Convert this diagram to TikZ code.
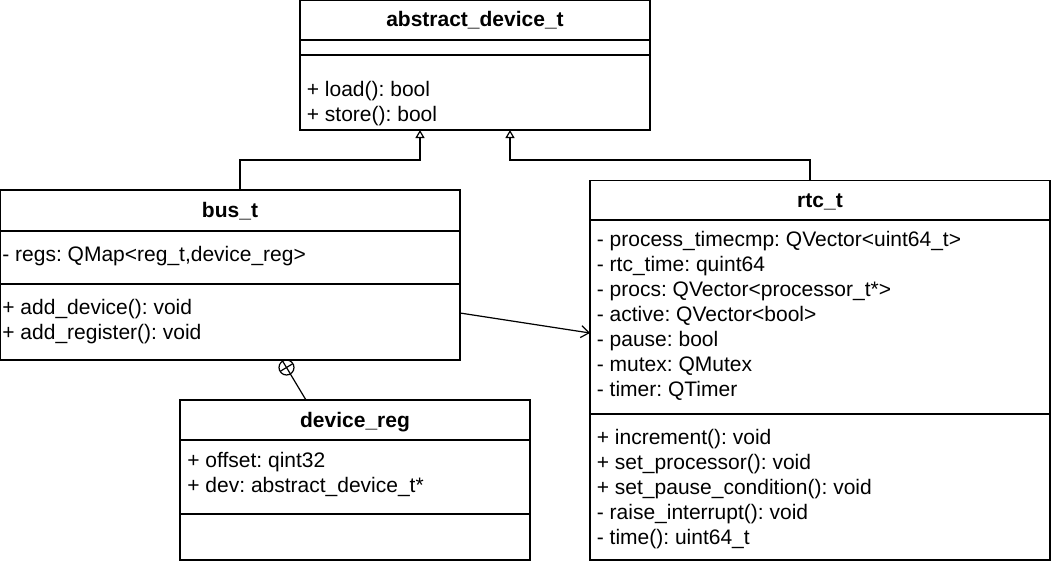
\documentclass[tikz,border=0pt]{standalone}
\usepackage{fontspec}
\setmainfont{Liberation Sans}
\usetikzlibrary{arrows.meta}
\frenchspacing
\begin{document}
\begin{tikzpicture}[x=0.5pt,y=-0.5pt,
  every node/.style={font=\fontsize{10.5}{12.6}\selectfont},
  box/.style={draw, line width=0.6pt, rectangle, anchor=north west, inner sep=0pt, outer sep=0pt},
  sep/.style={line width=0.6pt},
  attr/.style={anchor=base west, inner sep=0pt},
  ttl/.style={anchor=base, inner sep=0pt, font=\fontsize{10.5}{12.6}\selectfont\bfseries},
  inh/.style={line width=0.6pt, -{Triangle[open, length=4pt, width=4.5pt]}},
  assoc/.style={line width=0.6pt, -{Straight Barb[length=4pt, width=6pt]}},
  nestc/.style={draw, circle, line width=0.6pt, minimum size=7.5pt, inner sep=0pt, outer sep=0pt}
]
\useasboundingbox (0,0) rectangle (1051,564);

% abstract_device_t
\node[box, minimum width=175pt, minimum height=64.75pt] (abs) at (300,0.5) {};
\draw[sep] (300,40) -- (650,40);
\draw[sep] (300,55) -- (650,55);
\node[ttl] (absT) at (475,26) {abstract\_device\_t};
\node[attr] (abs1) at (306.5,96.5) {+ load(): bool};
\node[attr] (abs2) at (306.5,121.5) {+ store(): bool};

% bus_t
\node[box, minimum width=229.75pt, minimum height=85pt] (bus) at (0.5,190) {};
\draw[sep] (0.5,231) -- (460,231);
\draw[sep] (0.5,284) -- (460,284);
\node[ttl] (busT) at (230,217) {bus\_t};
\node[attr] (bus1) at (2,261.5) {- regs: QMap<reg\_t,device\_reg>};
\node[attr] (bus2) at (2,314) {+ add\_device(): void};
\node[attr] (bus3) at (2,339) {+ add\_register(): void};

% rtc_t
\node[box, minimum width=230pt, minimum height=189.75pt] (rtc) at (590,180.5) {};
\draw[sep] (590,220) -- (1050,220);
\draw[sep] (590,414) -- (1050,414);
\node[ttl] (rtcT) at (820,207) {rtc\_t};
\node[attr] (r1) at (596.5,246.5) {- process\_timecmp: QVector<uint64\_t>};
\node[attr] (r2) at (596.5,271.5) {- rtc\_time: quint64};
\node[attr] (r3) at (596.5,296.5) {- procs: QVector<processor\_t*>};
\node[attr] (r4) at (596.5,321.5) {- active: QVector<bool>};
\node[attr] (r5) at (596.5,346.5) {- pause: bool};
\node[attr] (r6) at (596.5,371.5) {- mutex: QMutex};
\node[attr] (r7) at (596.5,396.5) {- timer: QTimer};
\node[attr] (r8) at (596.5,444) {+ increment(): void};
\node[attr] (r9) at (596.5,469) {+ set\_processor(): void};
\node[attr] (r10) at (596.5,494) {+ set\_pause\_condition(): void};
\node[attr] (r11) at (596.5,519) {- raise\_interrupt(): void};
\node[attr] (r12) at (596.5,544) {- time(): uint64\_t};

% device_reg
\node[box, minimum width=175pt, minimum height=80pt] (dreg) at (180,400) {};
\draw[sep] (180,440) -- (530,440);
\draw[sep] (180,514) -- (530,514);
\node[ttl] (dregT) at (355,427.5) {device\_reg};
\node[attr] (d1) at (187,467.5) {+ offset: qint32};
\node[attr] (d2) at (187,492) {+ dev: abstract\_device\_t*};

% connectors
\coordinate (absA) at (420,130);
\coordinate (absB) at (510,130);
\coordinate (busUp) at (240,190);
\coordinate (rtcUp) at (810,180.5);
\draw[inh] (busUp) -- (240,160) -- (420,160) -- (absA);
\draw[inh] (rtcUp) -- (810,160) -- (510,160) -- (absB);

\coordinate (busR) at (460,313);
\coordinate (rtcL) at (590,333);
\draw[assoc] (busR) -- (rtcL);

\node[nestc] (nest) at (286.5,367.5) {};
\draw[line width=0.6pt] (282.6,361.1) -- (290.4,373.9);
\draw[line width=0.6pt] (280.1,371.4) -- (292.9,363.6);
\coordinate (dregTop) at (306,400);
\draw[line width=0.6pt] (nest) -- (dregTop);
\end{tikzpicture}
\end{document}
